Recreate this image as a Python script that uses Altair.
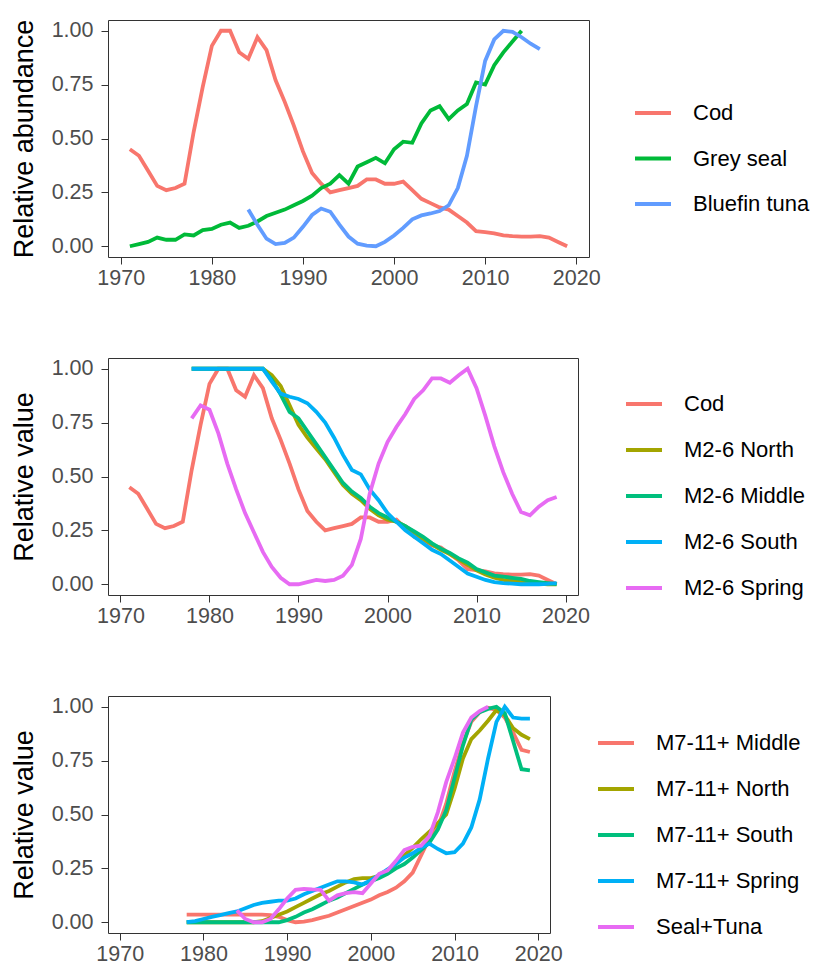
import altair as alt
import pandas as pd

# ---------------- data ----------------
years_cod = list(range(1971, 2020))
cod = [0.45, 0.42, 0.35, 0.28, 0.26, 0.27, 0.29, 0.53, 0.74, 0.93,
       1.00, 1.00, 0.90, 0.87, 0.97, 0.91, 0.77, 0.67, 0.56, 0.44,
       0.34, 0.29, 0.25, 0.26, 0.27, 0.28, 0.31, 0.31, 0.29, 0.29,
       0.30, 0.26, 0.22, 0.20, 0.18, 0.17, 0.14, 0.11, 0.07, 0.065,
       0.06, 0.05, 0.047, 0.045, 0.045, 0.047, 0.04, 0.02, 0.0]

years_seal = list(range(1971, 2015))
grey_seal = [0.00, 0.01, 0.02, 0.04, 0.03, 0.03, 0.055, 0.05, 0.075, 0.08,
             0.10, 0.11, 0.085, 0.095, 0.115, 0.14, 0.155, 0.17, 0.19, 0.21,
             0.235, 0.27, 0.29, 0.33, 0.29, 0.37, 0.39, 0.41, 0.385, 0.45,
             0.485, 0.48, 0.57, 0.63, 0.65, 0.59, 0.63, 0.66, 0.76, 0.75,
             0.84, 0.90, 0.95, 1.00]

years_tuna = list(range(1984, 2017))
bluefin_tuna = [0.17, 0.10, 0.035, 0.01, 0.015, 0.04, 0.09, 0.145, 0.175, 0.16,
                0.10, 0.045, 0.012, 0.003, 0.0, 0.02, 0.05, 0.085, 0.125, 0.143,
                0.152, 0.163, 0.19, 0.27, 0.42, 0.65, 0.86, 0.96, 1.00, 0.995,
                0.97, 0.94, 0.915]

years_m = list(range(1978, 2020))
m26_north = [1.0, 1.0, 1.0, 1.0, 1.0, 1.0, 1.0, 1.0, 1.0, 0.97,
             0.92, 0.83, 0.74, 0.68, 0.63, 0.58, 0.52, 0.46, 0.42, 0.39,
             0.35, 0.32, 0.30, 0.29, 0.27, 0.24, 0.21, 0.185, 0.16, 0.14,
             0.115, 0.09, 0.065, 0.045, 0.03, 0.02, 0.015, 0.01, 0.005, 0.003,
             0.0, 0.0]
m26_middle = [1.0, 1.0, 1.0, 1.0, 1.0, 1.0, 1.0, 1.0, 1.0, 0.95,
              0.88, 0.80, 0.77, 0.71, 0.65, 0.59, 0.53, 0.47, 0.43, 0.40,
              0.36, 0.33, 0.31, 0.29, 0.27, 0.245, 0.22, 0.19, 0.165, 0.145,
              0.12, 0.10, 0.07, 0.055, 0.04, 0.035, 0.03, 0.025, 0.015, 0.01,
              0.005, 0.0]
m26_south = [1.0, 1.0, 1.0, 1.0, 1.0, 1.0, 1.0, 1.0, 1.0, 0.94,
             0.885, 0.87, 0.86, 0.84, 0.80, 0.75, 0.68, 0.60, 0.53, 0.51,
             0.44, 0.39, 0.33, 0.29, 0.25, 0.22, 0.19, 0.16, 0.14, 0.11,
             0.08, 0.05, 0.035, 0.02, 0.01, 0.005, 0.003, 0.0, 0.0, 0.0,
             0.002, 0.005]
m26_spring = [0.77, 0.83, 0.81, 0.70, 0.56, 0.44, 0.33, 0.24, 0.15, 0.08,
              0.03, 0.0, 0.0, 0.01, 0.02, 0.015, 0.02, 0.04, 0.09, 0.21,
              0.42, 0.56, 0.66, 0.73, 0.79, 0.86, 0.90, 0.955, 0.955, 0.935,
              0.97, 1.00, 0.91, 0.78, 0.64, 0.52, 0.42, 0.335, 0.32, 0.36,
              0.39, 0.405]

m711_middle = [0.035, 0.035, 0.035, 0.035, 0.035, 0.035, 0.035, 0.035, 0.035, 0.035,
               0.033, 0.025, 0.01, 0.0, 0.003, 0.01, 0.02, 0.03, 0.045, 0.06,
               0.075, 0.09, 0.105, 0.125, 0.14, 0.16, 0.19, 0.23, 0.31, 0.39,
               0.44, 0.55, 0.70, 0.83, 0.93, 0.975, 0.995, 0.985, 0.95, 0.88,
               0.80, 0.79]
m711_north = [0.0, 0.0, 0.0, 0.0, 0.0, 0.0, 0.0, 0.0, 0.0, 0.005,
              0.02, 0.035, 0.05, 0.07, 0.09, 0.11, 0.13, 0.145, 0.165, 0.185,
              0.20, 0.205, 0.205, 0.215, 0.235, 0.27, 0.31, 0.345, 0.385, 0.42,
              0.46, 0.50, 0.62, 0.76, 0.85, 0.89, 0.935, 0.985, 0.96, 0.90,
              0.87, 0.85]
m711_south = [0.0, 0.0, 0.0, 0.0, 0.0, 0.0, 0.0, 0.0, 0.0, 0.0,
              0.0, 0.0, 0.01, 0.025, 0.045, 0.06, 0.08, 0.10, 0.115, 0.135,
              0.155, 0.175, 0.19, 0.205, 0.225, 0.25, 0.27, 0.30, 0.335, 0.37,
              0.43, 0.52, 0.67, 0.82, 0.94, 0.975, 0.99, 1.00, 0.97, 0.84,
              0.71, 0.705]
m711_spring = [0.0, 0.005, 0.015, 0.025, 0.033, 0.042, 0.05, 0.065, 0.08, 0.09,
               0.095, 0.10, 0.10, 0.11, 0.13, 0.145, 0.16, 0.175, 0.19, 0.19,
               0.185, 0.175, 0.195, 0.22, 0.245, 0.27, 0.30, 0.32, 0.345, 0.365,
               0.34, 0.32, 0.325, 0.365, 0.44, 0.57, 0.76, 0.93, 1.00, 0.95,
               0.945, 0.945]

years_st = list(range(1984, 2015))
seal_tuna = [0.055, 0.015, 0.0, 0.0, 0.015, 0.06, 0.11, 0.15, 0.155, 0.152,
             0.15, 0.10, 0.125, 0.135, 0.14, 0.135, 0.18, 0.225, 0.24, 0.285,
             0.335, 0.35, 0.355, 0.40, 0.51, 0.65, 0.76, 0.88, 0.95, 0.98,
             1.00]

names1 = ["Cod", "Grey seal", "Bluefin tuna"]
colors1 = ["#F8766D", "#00BA38", "#619CFF"]
names2 = ["Cod", "M2-6 North", "M2-6 Middle", "M2-6 South", "M2-6 Spring"]
names3 = ["M7-11+ Middle", "M7-11+ North", "M7-11+ South", "M7-11+ Spring", "Seal+Tuna"]
colors5 = ["#F8766D", "#A3A500", "#00BF7D", "#00B0F6", "#E76BF3"]

x_ticks = [1970, 1980, 1990, 2000, 2010, 2020]
y_ticks = [0.0, 0.25, 0.5, 0.75, 1.0]


def long(series):
    rows = []
    for name, yrs, vals in series:
        for yr, v in zip(yrs, vals):
            rows.append({"year": yr, "value": v, "series": name})
    return pd.DataFrame(rows)


df1 = long([("Cod", years_cod, cod), ("Grey seal", years_seal, grey_seal),
            ("Bluefin tuna", years_tuna, bluefin_tuna)])
df2 = long([("Cod", years_cod, cod), ("M2-6 North", years_m, m26_north),
            ("M2-6 Middle", years_m, m26_middle), ("M2-6 South", years_m, m26_south),
            ("M2-6 Spring", years_m, m26_spring)])
df3 = long([("M7-11+ Middle", years_m, m711_middle), ("M7-11+ North", years_m, m711_north),
            ("M7-11+ South", years_m, m711_south), ("M7-11+ Spring", years_m, m711_spring),
            ("Seal+Tuna", years_st, seal_tuna)])

FONT = "Liberation Sans"


def panel(df, names, colors, ytitle, width, lx, ly, rowpad):
    return alt.Chart(df).mark_line(strokeWidth=3.8).encode(
        x=alt.X("year:Q",
                scale=alt.Scale(domain=[1968.6, 2021.4], nice=False, zero=False),
                axis=alt.Axis(values=x_ticks, format="d", title=None, labelPadding=3)),
        y=alt.Y("value:Q",
                scale=alt.Scale(domain=[-0.05, 1.05], nice=False),
                axis=alt.Axis(values=y_ticks, format=".2f", title=ytitle,
                              labelPadding=8, titlePadding=13)),
        color=alt.Color("series:N", sort=names,
                        scale=alt.Scale(domain=names, range=colors),
                        legend=alt.Legend(title=None, orient="none", legendX=lx, legendY=ly,
                                          symbolType="stroke", symbolSize=1296,
                                          symbolStrokeWidth=4, labelFontSize=22,
                                          labelFont=FONT, labelColor="#000000",
                                          labelOffset=20, rowPadding=rowpad, padding=0,
                                          labelLimit=300)),
    ).properties(width=width, height=237)


p1 = panel(df1, names1, colors1, "Relative abundance", 481, 525, 73, 14.5)
p2 = panel(df2, names2, colors5, "Relative value", 470, 516, 26, 15)
p3 = panel(df3, names3, colors5, "Relative value", 442, 488, 27, 15)

chart = alt.vconcat(p1, p2, p3, spacing=68).resolve_scale(color="independent").properties(
    padding={"left": 9, "top": 18, "right": 0, "bottom": 0},
    background="white"
).configure_view(
    stroke="#333333", strokeWidth=1
).configure_axis(
    grid=False, domain=False, tickColor="#333333", tickSize=7, tickWidth=1,
    labelFont=FONT, labelFontSize=21.5, labelColor="#4D4D4D",
    titleFont=FONT, titleFontSize=27, titleColor="#000000", titleFontWeight="normal"
)

chart.save("out.html", embed_options={"renderer": "svg", "actions": False})
